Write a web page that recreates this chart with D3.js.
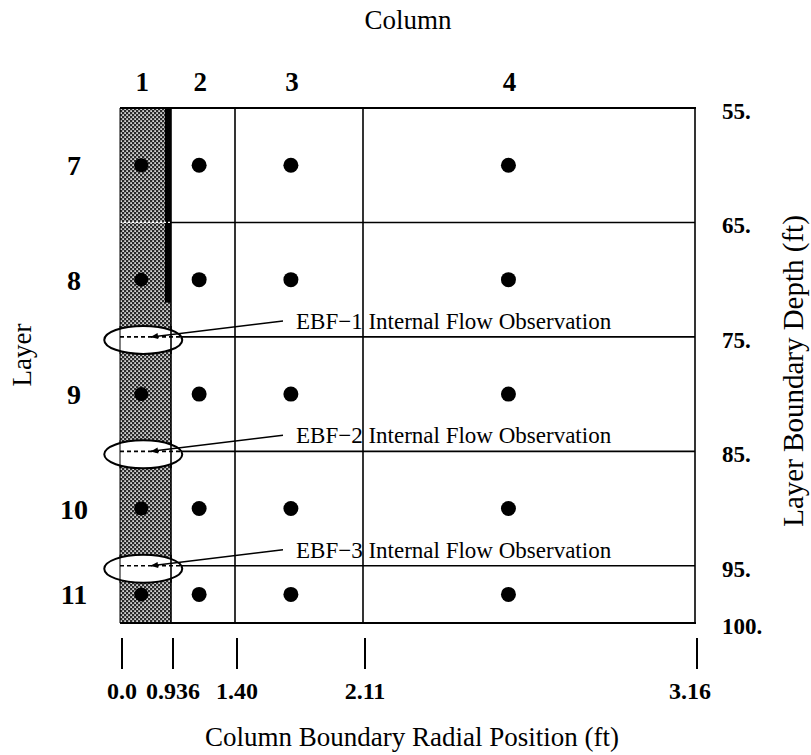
<!DOCTYPE html>
<html>
<head>
<meta charset="utf-8">
<script src="https://cdn.jsdelivr.net/npm/d3@7"></script>
<style>
  body { margin: 0; background: #fff; }
  text { font-family: "Liberation Serif", "Times New Roman", serif; fill: #000; }
</style>
</head>
<body>
<svg id="grid"></svg>
<script>
// column boundaries (radial position, ft) and their tick labels
var columnBounds = [0.0, 0.936, 1.40, 2.11, 3.16];
var columnBoundLabels = ["0.0", "0.936", "1.40", "2.11", "3.16"];
// column node positions (ft) and column numbers
var columnNodes = [0.39, 1.14, 1.71, 2.57];
var columnNumbers = ["1", "2", "3", "4"];

// layer boundaries (depth, ft) and their labels
var layerBounds = [55, 65, 75, 85, 95, 100];
var layerBoundLabels = ["55.", "65.", "75.", "85.", "95.", "100."];
// layer node depths and layer numbers
var layerNodes = [60, 70, 80, 90, 97.5];
var layerNumbers = ["7", "8", "9", "10", "11"];

// internal flow observations
var obsNames = ["EBF\u22121", "EBF\u22122", "EBF\u22123"];
var obsDepths = [75, 85, 95];

var W = 811, H = 755;
var svg = d3.select("#grid").attr("width", W).attr("height", H);

// the column spacing is schematic, so piecewise scale through the boundaries
var x = d3.scaleLinear()
    .domain(columnBounds)
    .range([120, 171, 235, 363, 695]);
var y = d3.scaleLinear()
    .domain([55, 100])
    .range([108, 623]);

var defs = svg.append("defs");
var pat = defs.append("pattern")
    .attr("id", "shade")
    .attr("patternUnits", "userSpaceOnUse")
    .attr("width", 4).attr("height", 4);
pat.append("rect").attr("width", 4).attr("height", 4).attr("fill", "#2a2a2a");
pat.append("rect").attr("x", 0.3).attr("y", 0.3).attr("width", 1.6).attr("height", 1.6).attr("fill", "#fff");
pat.append("rect").attr("x", 2.3).attr("y", 2.3).attr("width", 1.6).attr("height", 1.6).attr("fill", "#fff");

defs.append("marker")
    .attr("id", "arrow")
    .attr("viewBox", "0 0 10 10")
    .attr("refX", 9).attr("refY", 5)
    .attr("markerWidth", 7).attr("markerHeight", 5)
    .attr("markerUnits", "strokeWidth")
    .attr("orient", "auto")
  .append("path")
    .attr("d", "M0,1 L10,5 L0,9 Z")
    .attr("fill", "#000");

var x0 = x(columnBounds[0]), x1 = x(columnBounds[columnBounds.length - 1]);
var y0 = y(layerBounds[0]), y1 = y(layerBounds[layerBounds.length - 1]);

// shaded first column (the well)
svg.append("rect")
    .attr("x", x0).attr("y", y0)
    .attr("width", x(columnBounds[1]) - x0)
    .attr("height", y1 - y0)
    .attr("fill", "url(#shade)");
svg.append("rect")
    .attr("x", x(columnBounds[1]) - 6).attr("y", y0)
    .attr("width", 6).attr("height", y(72) - y0)
    .attr("fill", "#000");

// horizontal layer boundaries
var inner = layerBounds.slice(1, -1);
svg.selectAll("line.hline")
    .data(inner)
    .enter().append("line")
    .attr("class", "hline")
    .attr("x1", x(columnBounds[1])).attr("x2", x1)
    .attr("y1", function(d) { return y(d); })
    .attr("y2", function(d) { return y(d); })
    .attr("stroke", "#000").attr("stroke-width", 1.6);
// boundaries inside the well column that carry no observation
svg.selectAll("line.wline")
    .data(inner.filter(function(d) { return obsDepths.indexOf(d) < 0; }))
    .enter().append("line")
    .attr("class", "wline")
    .attr("x1", x0).attr("x2", x(columnBounds[1]))
    .attr("y1", function(d) { return y(d); })
    .attr("y2", function(d) { return y(d); })
    .attr("stroke", "#fff").attr("stroke-width", 1.2)
    .attr("stroke-dasharray", "2,2");

// vertical column boundaries
svg.selectAll("line.vline")
    .data(columnBounds)
    .enter().append("line")
    .attr("class", "vline")
    .attr("x1", function(d) { return x(d); })
    .attr("x2", function(d) { return x(d); })
    .attr("y1", y0).attr("y2", y1)
    .attr("stroke", "#000")
    .attr("stroke-width", function(d, i) { return i == 0 ? 1 : 1.6; });

// top and bottom edges
svg.selectAll("line.edge")
    .data([layerBounds[0], layerBounds[layerBounds.length - 1]])
    .enter().append("line")
    .attr("class", "edge")
    .attr("x1", x0).attr("x2", x1 + 1)
    .attr("y1", function(d) { return y(d); })
    .attr("y2", function(d) { return y(d); })
    .attr("stroke", "#000").attr("stroke-width", 2);

// node dots
var nodes = [];
layerNodes.forEach(function(d) {
    columnNodes.forEach(function(c, j) { nodes.push({r: c, z: d, col: j}); });
});
svg.selectAll("circle.node")
    .data(nodes)
    .enter().append("circle")
    .attr("class", "node")
    .attr("cx", function(d) { return x(d.r); })
    .attr("cy", function(d) { return y(d.z); })
    .attr("r", function(d) { return d.col == 0 ? 7 : 7.5; })
    .attr("fill", "#000");

// observation markers: ellipse, dashed segment, arrow and label
var obs = svg.selectAll("g.obs")
    .data(obsDepths)
    .enter().append("g")
    .attr("class", "obs");
obs.append("ellipse")
    .attr("cx", x(columnNodes[0]) + 2)
    .attr("cy", function(d) { return y(d) + 3; })
    .attr("rx", 39).attr("ry", 14)
    .attr("fill", "#fff")
    .attr("stroke", "#000").attr("stroke-width", 2);
obs.append("line")
    .attr("x1", x0).attr("x2", x0)
    .attr("y1", function(d) { return y(d) - 11; })
    .attr("y2", function(d) { return y(d) + 17; })
    .attr("stroke", "#000").attr("stroke-width", 1);
obs.append("line")
    .attr("x1", x(columnBounds[1])).attr("x2", x(columnBounds[1]))
    .attr("y1", function(d) { return y(d) - 11; })
    .attr("y2", function(d) { return y(d) + 17; })
    .attr("stroke", "#000").attr("stroke-width", 1.6);
obs.append("line")
    .attr("x1", x0).attr("x2", x(columnBounds[1]) + 12)
    .attr("y1", function(d) { return y(d); })
    .attr("y2", function(d) { return y(d); })
    .attr("stroke", "#000").attr("stroke-width", 1.6)
    .attr("stroke-dasharray", "4,3");
obs.append("line")
    .attr("x1", 283).attr("x2", x(columnNodes[0]) + 10)
    .attr("y1", function(d) { return y(d) - 16; })
    .attr("y2", function(d) { return y(d); })
    .attr("stroke", "#000").attr("stroke-width", 1.5)
    .attr("marker-end", "url(#arrow)");
obs.append("text")
    .attr("x", 296)
    .attr("y", function(d) { return y(d) - 8; })
    .style("font-size", "23px")
    .text(function(d, i) { return obsNames[i] + " Internal Flow Observation"; });

// column numbers above the grid
svg.selectAll("text.colnum")
    .data(columnNodes)
    .enter().append("text")
    .attr("class", "colnum")
    .attr("x", function(d) { return x(d) + 1; })
    .attr("y", 91)
    .attr("text-anchor", "middle")
    .style("font-size", "27px").style("font-weight", "bold")
    .text(function(d, i) { return columnNumbers[i]; });

// layer numbers at left
svg.selectAll("text.laynum")
    .data(layerNodes)
    .enter().append("text")
    .attr("class", "laynum")
    .attr("x", 74)
    .attr("y", function(d) { return y(d) + 10; })
    .attr("text-anchor", "middle")
    .style("font-size", "28px").style("font-weight", "bold")
    .text(function(d, i) { return layerNumbers[i]; });

// boundary depth labels at right
svg.selectAll("text.depth")
    .data(layerBounds)
    .enter().append("text")
    .attr("class", "depth")
    .attr("x", 722)
    .attr("y", function(d) { return y(d) + 11; })
    .style("font-size", "23px").style("font-weight", "bold")
    .text(function(d, i) { return layerBoundLabels[i]; });

// radial position ticks below
svg.selectAll("line.tick")
    .data(columnBounds)
    .enter().append("line")
    .attr("class", "tick")
    .attr("x1", function(d) { return x(d) + 2; })
    .attr("x2", function(d) { return x(d) + 2; })
    .attr("y1", 638).attr("y2", 669)
    .attr("stroke", "#000").attr("stroke-width", 2);
svg.selectAll("text.rlab")
    .data(columnBounds)
    .enter().append("text")
    .attr("class", "rlab")
    .attr("x", function(d, i) { return x(d) + (i == 4 ? -5 : 2); })
    .attr("y", 699)
    .attr("text-anchor", "middle")
    .style("font-size", "24px").style("font-weight", "bold")
    .text(function(d, i) { return columnBoundLabels[i]; });

// axis titles
svg.append("text")
    .attr("x", 408).attr("y", 29)
    .attr("text-anchor", "middle")
    .style("font-size", "27px")
    .text("Column");
svg.append("text")
    .attr("x", 412).attr("y", 746)
    .attr("text-anchor", "middle")
    .style("font-size", "27px")
    .text("Column Boundary Radial Position (ft)");
svg.append("text")
    .attr("transform", "translate(31,355)rotate(-90)")
    .attr("text-anchor", "middle")
    .style("font-size", "27px")
    .text("Layer");
svg.append("text")
    .attr("transform", "translate(803,371)rotate(-90)")
    .attr("text-anchor", "middle")
    .style("font-size", "29px")
    .text("Layer Boundary Depth (ft)");
</script>
</body>
</html>
